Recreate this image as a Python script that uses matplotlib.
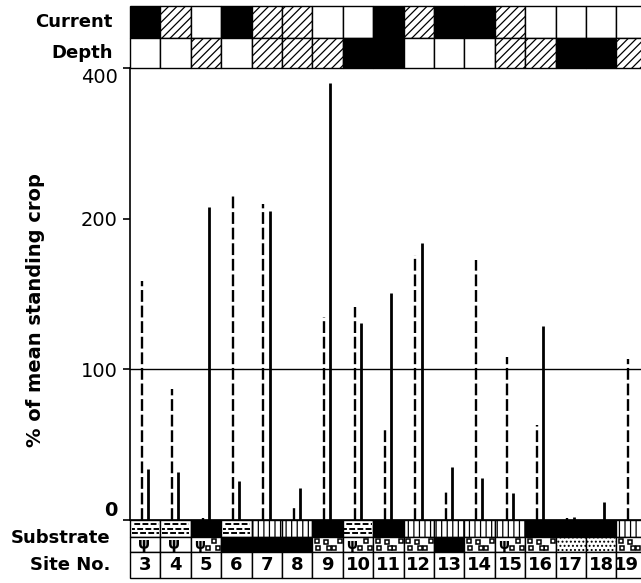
import numpy as np
import matplotlib
matplotlib.use("Agg")
import matplotlib.pyplot as plt
from matplotlib.patches import Rectangle

# ---------------- data ----------------
sites = [3, 4, 5, 6, 7, 8, 9, 10, 11, 12, 13, 14, 15, 16, 17, 18, 19]
# dashed series (% of mean standing crop)
dashed_vals = [150, 87, 1, 223, 214, 8, 127, 133, 61, 169, 19, 165, 106, 63, 1, np.nan, 105]
# solid series
solid_vals = [34, 32, 211, 26, 207, 21, 373, 124, 142, 179, 35, 28, 18, 122, 2, 12, np.nan]
# B = black, H = hatched, W = white
current = ["B", "H", "W", "B", "H", "H", "W", "W", "B", "H", "B", "B", "H", "W", "W", "W", "W"]
depth = ["W", "W", "H", "W", "H", "H", "H", "B", "B", "W", "W", "W", "H", "H", "B", "B", "H"]
# substrate upper row: L = lines (silt), V = vertical stipple, B = black
substrate_top = ["L", "L", "B", "L", "V", "V", "B", "L", "B", "V", "V", "V", "V", "B", "B", "B", "V"]
# substrate lower row: P = plants, G = gravel, PG = plants+gravel, S = sand, B = black
substrate_bot = ["P", "P", "PG", "B", "B", "B", "G", "PG", "G", "G", "B", "G", "PG", "G", "S", "S", "G"]
y_ticks = [0, 100, 200, 400]
y_ticklabels = ["0", "100", "200", "400"]
row_labels = ["Current", "Depth", "Substrate", "Site No."]
y_label = "% of mean standing crop"

# ---------------- layout ----------------
W, H = 641, 583
plt.rcParams['hatch.linewidth'] = 0.9
fig = plt.figure(figsize=(W / 100, H / 100), dpi=100)

def fx(x):
    return x / W

def fy(y):
    return 1 - y / H

x0 = 130
colw = 30.4
xmin = 2.5
xmax = xmin + (W - x0) / colw

# main axes
ax = fig.add_axes([fx(x0), fy(520), (W - x0) / W, (520 - 68) / H])

def fwd(v):
    v = np.asarray(v, dtype=float)
    return np.where(v <= 100, v / 100.0, 1 + np.log2(np.maximum(v, 100) / 100.0))

def inv(u):
    u = np.asarray(u, dtype=float)
    return np.where(u <= 1, u * 100.0, 100.0 * 2 ** (np.maximum(u, 1) - 1))

ax.set_yscale("function", functions=(fwd, inv))
ax.set_ylim(0, 400)
ax.set_xlim(xmin, xmax)
ax.set_yticks(y_ticks)
ax.set_yticklabels(y_ticklabels, fontsize=14, family="DejaVu Sans")
ax.minorticks_off()
ax.set_xticks([])
ax.tick_params(axis="y", direction="out", length=5, width=1.2, pad=4, colors="black")
tl = ax.get_yticklabels()
tl[0].set_va("bottom")
tl[0].set_fontweight("bold")
tl[-1].set_va("top")
for s in ["right", "top"]:
    ax.spines[s].set_visible(False)
ax.spines["left"].set_linewidth(1.2)
ax.spines["bottom"].set_linewidth(1.2)

ax.axhline(100, color="black", lw=1.0, zorder=1)

s_arr = np.array(sites, dtype=float)
d_arr = np.array(dashed_vals, dtype=float)
so_arr = np.array(solid_vals, dtype=float)
md = ~np.isnan(d_arr)
ms = ~np.isnan(so_arr)
ax.vlines(s_arr[md] - 0.11, 0, d_arr[md], colors="black", lw=1.7,
          linestyles=[(0, (5, 1.6))], zorder=3)
ax.vlines(s_arr[ms] + 0.09, 0, so_arr[ms], colors="black", lw=2.0, zorder=3)

# ---------------- top strip ----------------
axt = fig.add_axes([fx(x0), fy(68), (W - x0) / W, 62 / H])
axt.set_xlim(xmin, xmax)
axt.set_ylim(0, 62)
axt.axis("off")

def cell(a, xs, y0, h, kind, hatch_diag="////"):
    fc = "white"
    hatch = None
    if kind == "B":
        fc = "black"
    elif kind == "H":
        hatch = hatch_diag
    r = Rectangle((xs - 0.5, y0), 1, h, facecolor=fc, edgecolor="black",
                  lw=1.0, hatch=hatch, clip_on=False)
    a.add_patch(r)

for s, c, d in zip(sites, current, depth):
    cell(axt, s, 30, 32, c)
    cell(axt, s, 0, 30, d)

# ---------------- bottom strip ----------------
axb = fig.add_axes([fx(x0), fy(578), (W - x0) / W, 58 / H])
axb.set_xlim(xmin, xmax)
axb.set_ylim(0, 58)
axb.axis("off")

gravel_pos = [(-0.3, 0.3), (-0.05, 0.7), (0.2, 0.3), (0.4, 0.72), (-0.35, 0.75), (0.05, 0.28)]

def draw_gravel(a, xs, y0, h, xs_sub=None):
    pts = gravel_pos if xs_sub is None else xs_sub
    px = [xs + p[0] for p in pts]
    py = [y0 + p[1] * h for p in pts]
    a.plot(px, py, ls="none", marker="s", ms=3.2, mfc="white", mec="black",
           mew=1.1, clip_on=False, zorder=4)

def draw_plant(a, xs, y, size=11):
    a.text(xs, y, "ψ", ha="center", va="center", fontsize=size,
           family="DejaVu Sans", fontweight="bold", clip_on=False, zorder=4)

# upper substrate row (41-58)
for s, k in zip(sites, substrate_top):
    y0, h = 41, 17
    if k == "B":
        axb.add_patch(Rectangle((s - 0.5, y0), 1, h, facecolor="black",
                                edgecolor="black", lw=1.0, clip_on=False))
    elif k == "V":
        axb.add_patch(Rectangle((s - 0.5, y0), 1, h, facecolor="white",
                                edgecolor="black", lw=1.0, hatch="|||", clip_on=False))
    else:
        axb.add_patch(Rectangle((s - 0.5, y0), 1, h, facecolor="white",
                                edgecolor="black", lw=1.0, clip_on=False))
        for j, fr in enumerate([0.25, 0.5, 0.75]):
            axb.plot([s - 0.45, s + 0.45], [y0 + fr * h] * 2, color="black",
                     lw=1.4, ls=(j * 1.5, (3, 1.2)), clip_on=False, zorder=4)

# lower substrate row (26-41)
for s, k in zip(sites, substrate_bot):
    y0, h = 26, 15
    fc = "black" if k == "B" else "white"
    hatch = "...." if k == "S" else None
    axb.add_patch(Rectangle((s - 0.5, y0), 1, h, facecolor=fc, edgecolor="black",
                            lw=1.0, hatch=hatch, clip_on=False))
    if k == "P":
        draw_plant(axb, s - 0.05, y0 + h / 2)
    elif k == "G":
        draw_gravel(axb, s, y0, h)
    elif k == "PG":
        draw_plant(axb, s - 0.22, y0 + h / 2, size=10)
        draw_gravel(axb, s, y0, h, [(0.08, 0.3), (0.25, 0.72), (0.4, 0.3)])

# site number row (0-26)
for i, s in enumerate(sites):
    axb.add_patch(Rectangle((s - 0.5, 0), 1, 26, facecolor="white",
                            edgecolor="black", lw=1.0, clip_on=False))
    if i == len(sites) - 1:
        axb.text(xmax - 2.5 / colw, 13, str(s), ha="right", va="center",
                 fontsize=13, fontweight="bold", family="DejaVu Sans", clip_on=False)
    else:
        axb.text(s, 13, str(s), ha="center", va="center", fontsize=13,
                 fontweight="bold", family="DejaVu Sans", clip_on=False)

# ---------------- row labels ----------------
lab_kw = dict(ha="right", va="center", fontsize=13, fontweight="bold", family="DejaVu Sans")
fig.text(fx(113), fy(22), row_labels[0], **lab_kw)
fig.text(fx(113), fy(53), row_labels[1], **lab_kw)
fig.text(fx(110), fy(538), row_labels[2], **lab_kw)
fig.text(fx(110), fy(565), row_labels[3], **lab_kw)

fig.text(fx(36), fy(310), y_label, rotation=90, ha="center", va="center",
         fontsize=14, fontweight="bold", family="DejaVu Sans")

fig.savefig("out.png", dpi=100)
